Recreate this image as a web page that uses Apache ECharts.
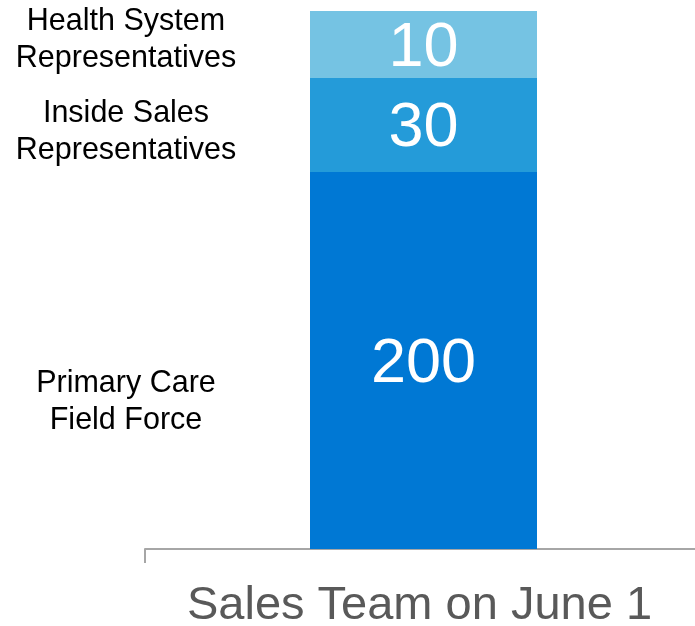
<!DOCTYPE html>
<html>
<head>
<meta charset="utf-8">
<script src="https://cdn.jsdelivr.net/npm/echarts@6/dist/echarts.min.js"></script>
<style>
  html, body { margin: 0; padding: 0; background: #fff; }
  #chart { width: 695px; height: 626px; }
</style>
</head>
<body>
<div id="chart"></div>
<script>
  // one category, three stacked groups (bottom to top)
  const categories = ['Sales Team on June 1']
  const groupNames = ['Primary Care\nField Force', 'Inside Sales\nRepresentatives', 'Health System\nRepresentatives']
  // numbers printed on the bar
  const headcount = [200, 30, 10]
  // segment lengths as drawn in the picture (the original is not to scale)
  const barLengths = [200, 50, 35.5]
  const colors = ['#0078d4', '#249bd9', '#75c3e3']
  const nameOffsets = [42, 7, -4]

  const chart = echarts.init(document.getElementById('chart'))
  const total = barLengths.reduce((a, b) => a + b, 0)

  const series = []
  barLengths.forEach((v, i) => {
    series.push({
      name: groupNames[i],
      type: 'bar',
      stack: 'team',
      barWidth: 227,
      barGap: '-100%',
      itemStyle: { color: colors[i] },
      label: {
        show: true,
        position: 'inside',
        offset: [0, 4],
        color: '#fff',
        fontSize: 63,
        fontFamily: 'Liberation Sans, Arial, sans-serif',
        formatter() {
          return headcount[i]
        }
      },
      data: [v]
    })
  })
  // invisible copy of the stack that carries the group names on the left
  barLengths.forEach((v, i) => {
    series.push({
      name: groupNames[i] + ' label',
      type: 'bar',
      stack: 'names',
      barWidth: 227,
      barGap: '-100%',
      silent: true,
      itemStyle: { color: 'transparent' },
      label: {
        show: true,
        position: 'left',
        distance: 184,
        align: 'center',
        offset: [0, nameOffsets[i]],
        color: '#000',
        fontSize: 30.5,
        lineHeight: 37,
        fontFamily: 'Liberation Sans, Arial, sans-serif',
        formatter() {
          return groupNames[i]
        }
      },
      data: [v]
    })
  })

  chart.setOption({
    backgroundColor: '#fff',
    animation: false,
    grid: {
      left: 145,
      right: -7,
      top: 11,
      bottom: 77,
      outerBoundsMode: 'none',
      containLabel: false
    },
    xAxis: {
      type: 'category',
      data: categories,
      axisLine: {
        lineStyle: { color: '#a6a6a6', width: 2 }
      },
      axisTick: {
        show: true,
        length: 14,
        lineStyle: { color: '#a6a6a6', width: 2 }
      },
      axisLabel: {
        margin: 34,
        padding: [0, 8, 0, 0],
        fontSize: 47,
        color: '#595959',
        fontFamily: 'Liberation Sans, Arial, sans-serif'
      }
    },
    yAxis: {
      type: 'value',
      min: 0,
      max: total,
      show: false
    },
    series: series
  })
</script>
</body>
</html>
